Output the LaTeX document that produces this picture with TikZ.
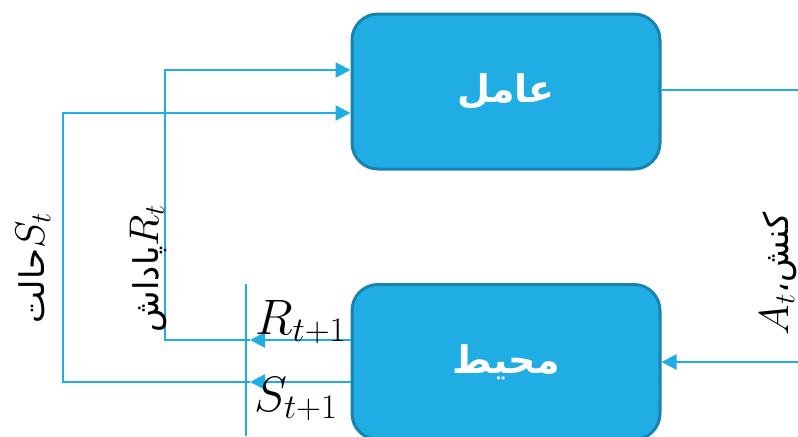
\documentclass[tikz,border=0pt]{standalone}
\usepackage{fontspec}
\usetikzlibrary{arrows.meta}
\TeXXeTstate=1
\newfontfamily\arabicfont[Script=Arabic]{DejaVu Sans}
\definecolor{boxfill}{HTML}{1FADE3}
\definecolor{boxedge}{HTML}{1882B0}
\definecolor{wire}{HTML}{1FADE3}
\newcommand\sidear[1]{{\arabicfont\fontsize{17}{20}\selectfont\beginR #1\endR}}
\tikzset{
  block/.style={draw=boxedge, fill=boxfill, line width=1.5pt, rounded corners=13pt,
    minimum width=154pt, minimum height=77.5pt, inner sep=0pt,
    text=white, font=\arabicfont\bfseries\fontsize{19}{22}\selectfont},
  wireline/.style={draw=wire, line width=1.2pt},
  flow/.style={wireline, -{Triangle[length=7.5pt,width=7.5pt]}},
  mathlabel/.style={inner sep=0pt, font=\fontsize{23}{27}\selectfont},
  sidelabel/.style={inner sep=0pt, rotate=90, font=\fontsize{22}{26}\selectfont}
}
\begin{document}
\begin{tikzpicture}[x=0.5pt,y=-0.5pt]
  \useasboundingbox (0,0) rectangle (798,436);
  \begin{scope}
    \clip (0,0) rectangle (798,436);

    % the two blocks
    \node[block] (agent) at (506,91.5) {\beginR عامل\endR};
    \node[block] (env) at (506,362) {\beginR محیط\endR};

    % helper points of the feedback loops
    \coordinate (actout) at (798,90);
    \coordinate (actin) at (798,362);
    \coordinate (rturn) at (165,340);
    \coordinate (rtop) at (165,70);
    \coordinate (rmid) at (250,340);
    \coordinate (sturn) at (63,382);
    \coordinate (stop) at (63,113);
    \coordinate (smid) at (250,382);
    \coordinate (vtop) at (246,284);
    \coordinate (vbot) at (246,436);

    % action leaving the agent and entering the environment
    \draw[wireline] (agent.east |- actout) -- (actout);
    \draw[flow] (actin) -- (env.east);

    % reward loop
    \draw[flow] (env.west |- rturn) -- (rmid);
    \draw[flow] (rmid) -- (rturn) -- (rtop) -- (agent.west |- rtop);

    % state loop
    \draw[flow] (env.west |- sturn) -- (smid);
    \draw[flow] (smid) -- (sturn) -- (stop) -- (agent.west |- stop);

    % time step separator
    \draw[wire, line width=0.9pt] (vtop) -- (vbot);

    % labels
    \node[mathlabel] (rnext) at (301,322) {$R_{t+1}$};
    \node[mathlabel] (snext) at (296,399) {$S_{t+1}$};
    \node[sidelabel] (slab) at (33,268) {\sidear{حالت}$S_t$};
    \node[sidelabel] (rlab) at (148,268) {\sidear{پاداش}$R_t$};
    \node[sidelabel] (alab) at (778,274) {$A_t$\sidear{کنش،}};
  \end{scope}
\end{tikzpicture}
\end{document}
